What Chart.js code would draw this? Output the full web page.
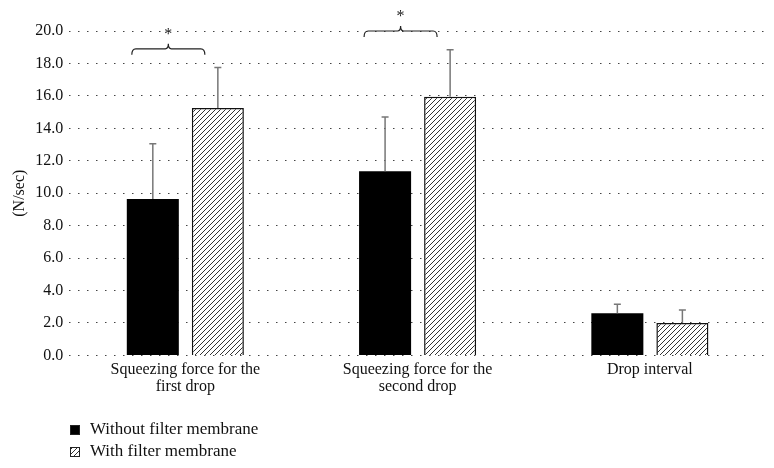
<!DOCTYPE html>
<html>
<head>
<meta charset="utf-8">
<script src="https://cdn.jsdelivr.net/npm/chart.js@4/dist/chart.umd.min.js"></script>
<style>
  html, body { margin: 0; padding: 0; background: #fff; }
  #wrap { width: 774px; height: 468px; position: relative; }
</style>
</head>
<body>
<div id="wrap"><canvas id="chart-squeeze"></canvas></div>
<script>
  const categories = [
    ['Squeezing force for the', 'first drop'],
    ['Squeezing force for the', 'second drop'],
    'Drop interval',
  ];
  const withoutFilter = [9.65, 11.35, 2.6];
  const withoutFilterErr = [3.4, 3.35, 0.55];
  const withFilter = [15.25, 15.95, 2.0];
  const withFilterErr = [2.5, 2.9, 0.8];
  // significance marks between the two bars of a group, and the level of the bracket
  const sigMarks = ['*', '*', ''];
  const sigLevels = [18.9, 20.0, null];
  const yTicks = [0, 2, 4, 6, 8, 10, 12, 14, 16, 18, 20];

  const serif = '"Liberation Serif", "DejaVu Serif", serif';

  function makeHatch() {
    const s = 5;
    const c = document.createElement('canvas');
    c.width = s;
    c.height = s;
    const g = c.getContext('2d');
    g.fillStyle = '#fff';
    g.fillRect(0, 0, s, s);
    g.strokeStyle = '#333';
    g.lineWidth = 1;
    g.beginPath();
    g.moveTo(0, s);
    g.lineTo(s, 0);
    g.moveTo(-1, 1);
    g.lineTo(1, -1);
    g.moveTo(s - 1, s + 1);
    g.lineTo(s + 1, s - 1);
    g.stroke();
    return g.createPattern(c, 'repeat');
  }

  const hatch = makeHatch();

  const errorBars = {
    id: 'errorBars',
    afterDatasetsDraw(chart) {
      const ctx = chart.ctx;
      const y = chart.scales.y;
      const errs = [withoutFilterErr, withFilterErr];
      ctx.save();
      ctx.strokeStyle = '#777';
      ctx.lineWidth = 1.5;
      chart.data.datasets.forEach((ds, di) => {
        chart.getDatasetMeta(di).data.forEach((bar, i) => {
          const top = y.getPixelForValue(ds.data[i] + errs[di][i]);
          ctx.beginPath();
          ctx.moveTo(bar.x, bar.y);
          ctx.lineTo(bar.x, top);
          ctx.moveTo(bar.x - 3.5, top);
          ctx.lineTo(bar.x + 3.5, top);
          ctx.stroke();
        });
      });
      ctx.restore();
    },
  };

  const brackets = {
    id: 'brackets',
    afterDatasetsDraw(chart) {
      const ctx = chart.ctx;
      const y = chart.scales.y;
      const m0 = chart.getDatasetMeta(0).data;
      const m1 = chart.getDatasetMeta(1).data;
      ctx.save();
      ctx.strokeStyle = '#222';
      ctx.lineWidth = 1.2;
      ctx.fillStyle = '#222';
      ctx.font = '16px ' + serif;
      ctx.textAlign = 'center';
      sigMarks.forEach((mark, i) => {
        if (!mark) return;
        const yy = y.getPixelForValue(sigLevels[i]);
        const x0 = m0[i].x - 21;
        const x1 = m1[i].x - 13;
        const xc = (x0 + x1) / 2;
        ctx.beginPath();
        ctx.moveTo(x0, yy + 6);
        ctx.quadraticCurveTo(x0, yy, x0 + 4, yy);
        ctx.lineTo(xc - 3, yy);
        ctx.quadraticCurveTo(xc, yy, xc, yy - 5);
        ctx.quadraticCurveTo(xc, yy, xc + 3, yy);
        ctx.lineTo(x1 - 4, yy);
        ctx.quadraticCurveTo(x1, yy, x1, yy + 6);
        ctx.stroke();
        ctx.textBaseline = 'alphabetic';
        ctx.fillText(mark, xc, yy - 10);
      });
      ctx.restore();
    },
  };

  const bottomLegend = {
    id: 'bottomLegend',
    afterDraw(chart) {
      const ctx = chart.ctx;
      ctx.save();
      ctx.font = '17px ' + serif;
      ctx.textBaseline = 'middle';
      chart.data.datasets.forEach((ds, i) => {
        const cy = 430 + i * 22;
        ctx.fillStyle = ds.backgroundColor;
        ctx.fillRect(70, cy - 5, 10, 10);
        ctx.strokeStyle = '#222';
        ctx.lineWidth = 1;
        ctx.strokeRect(70.5, cy - 4.5, 9, 9);
        ctx.fillStyle = '#111';
        ctx.fillText(ds.label, 90, cy);
      });
      ctx.restore();
    },
  };

  const ctx = document.getElementById('chart-squeeze').getContext('2d');
  const myChart = new Chart(ctx, {
    type: 'bar',
    data: {
      labels: categories,
      datasets: [
        {
          label: 'Without filter membrane',
          data: withoutFilter,
          backgroundColor: '#000',
          borderColor: '#000',
          borderWidth: 0,
        },
        {
          label: 'With filter membrane',
          data: withFilter,
          backgroundColor: hatch,
          borderColor: '#111',
          borderWidth: 1.5,
        },
      ],
    },
    plugins: [errorBars, brackets, bottomLegend],
    options: {
      responsive: true,
      maintainAspectRatio: false,
      animation: false,
      categoryPercentage: 0.56,
      barPercentage: 0.8,
      layout: {
        padding: { top: 31, right: 8, bottom: 67, left: 8 },
      },
      plugins: {
        legend: { display: false },
        tooltip: { enabled: false },
      },
      scales: {
        x: {
          grid: { display: false, drawTicks: false },
          border: { display: false },
          ticks: {
            color: '#111',
            padding: 6,
            maxRotation: 0,
            font: { family: serif, size: 16, lineHeight: 1.05 },
          },
        },
        y: {
          min: 0,
          max: 20,
          afterBuildTicks(axis) {
            axis.ticks = yTicks.map((v) => ({ value: v }));
          },
          grid: {
            color: '#444',
            lineWidth: 1,
            drawTicks: false,
          },
          border: { display: false, dash: [1.5, 7.5] },
          ticks: {
            color: '#111',
            padding: 6,
            font: { family: serif, size: 16 },
            callback: (v) => v.toFixed(1),
          },
          title: {
            display: true,
            text: '(N/sec)',
            color: '#111',
            font: { family: serif, size: 16 },
            padding: { top: 2, bottom: 0 },
          },
        },
      },
    },
  });
</script>
</body>
</html>
